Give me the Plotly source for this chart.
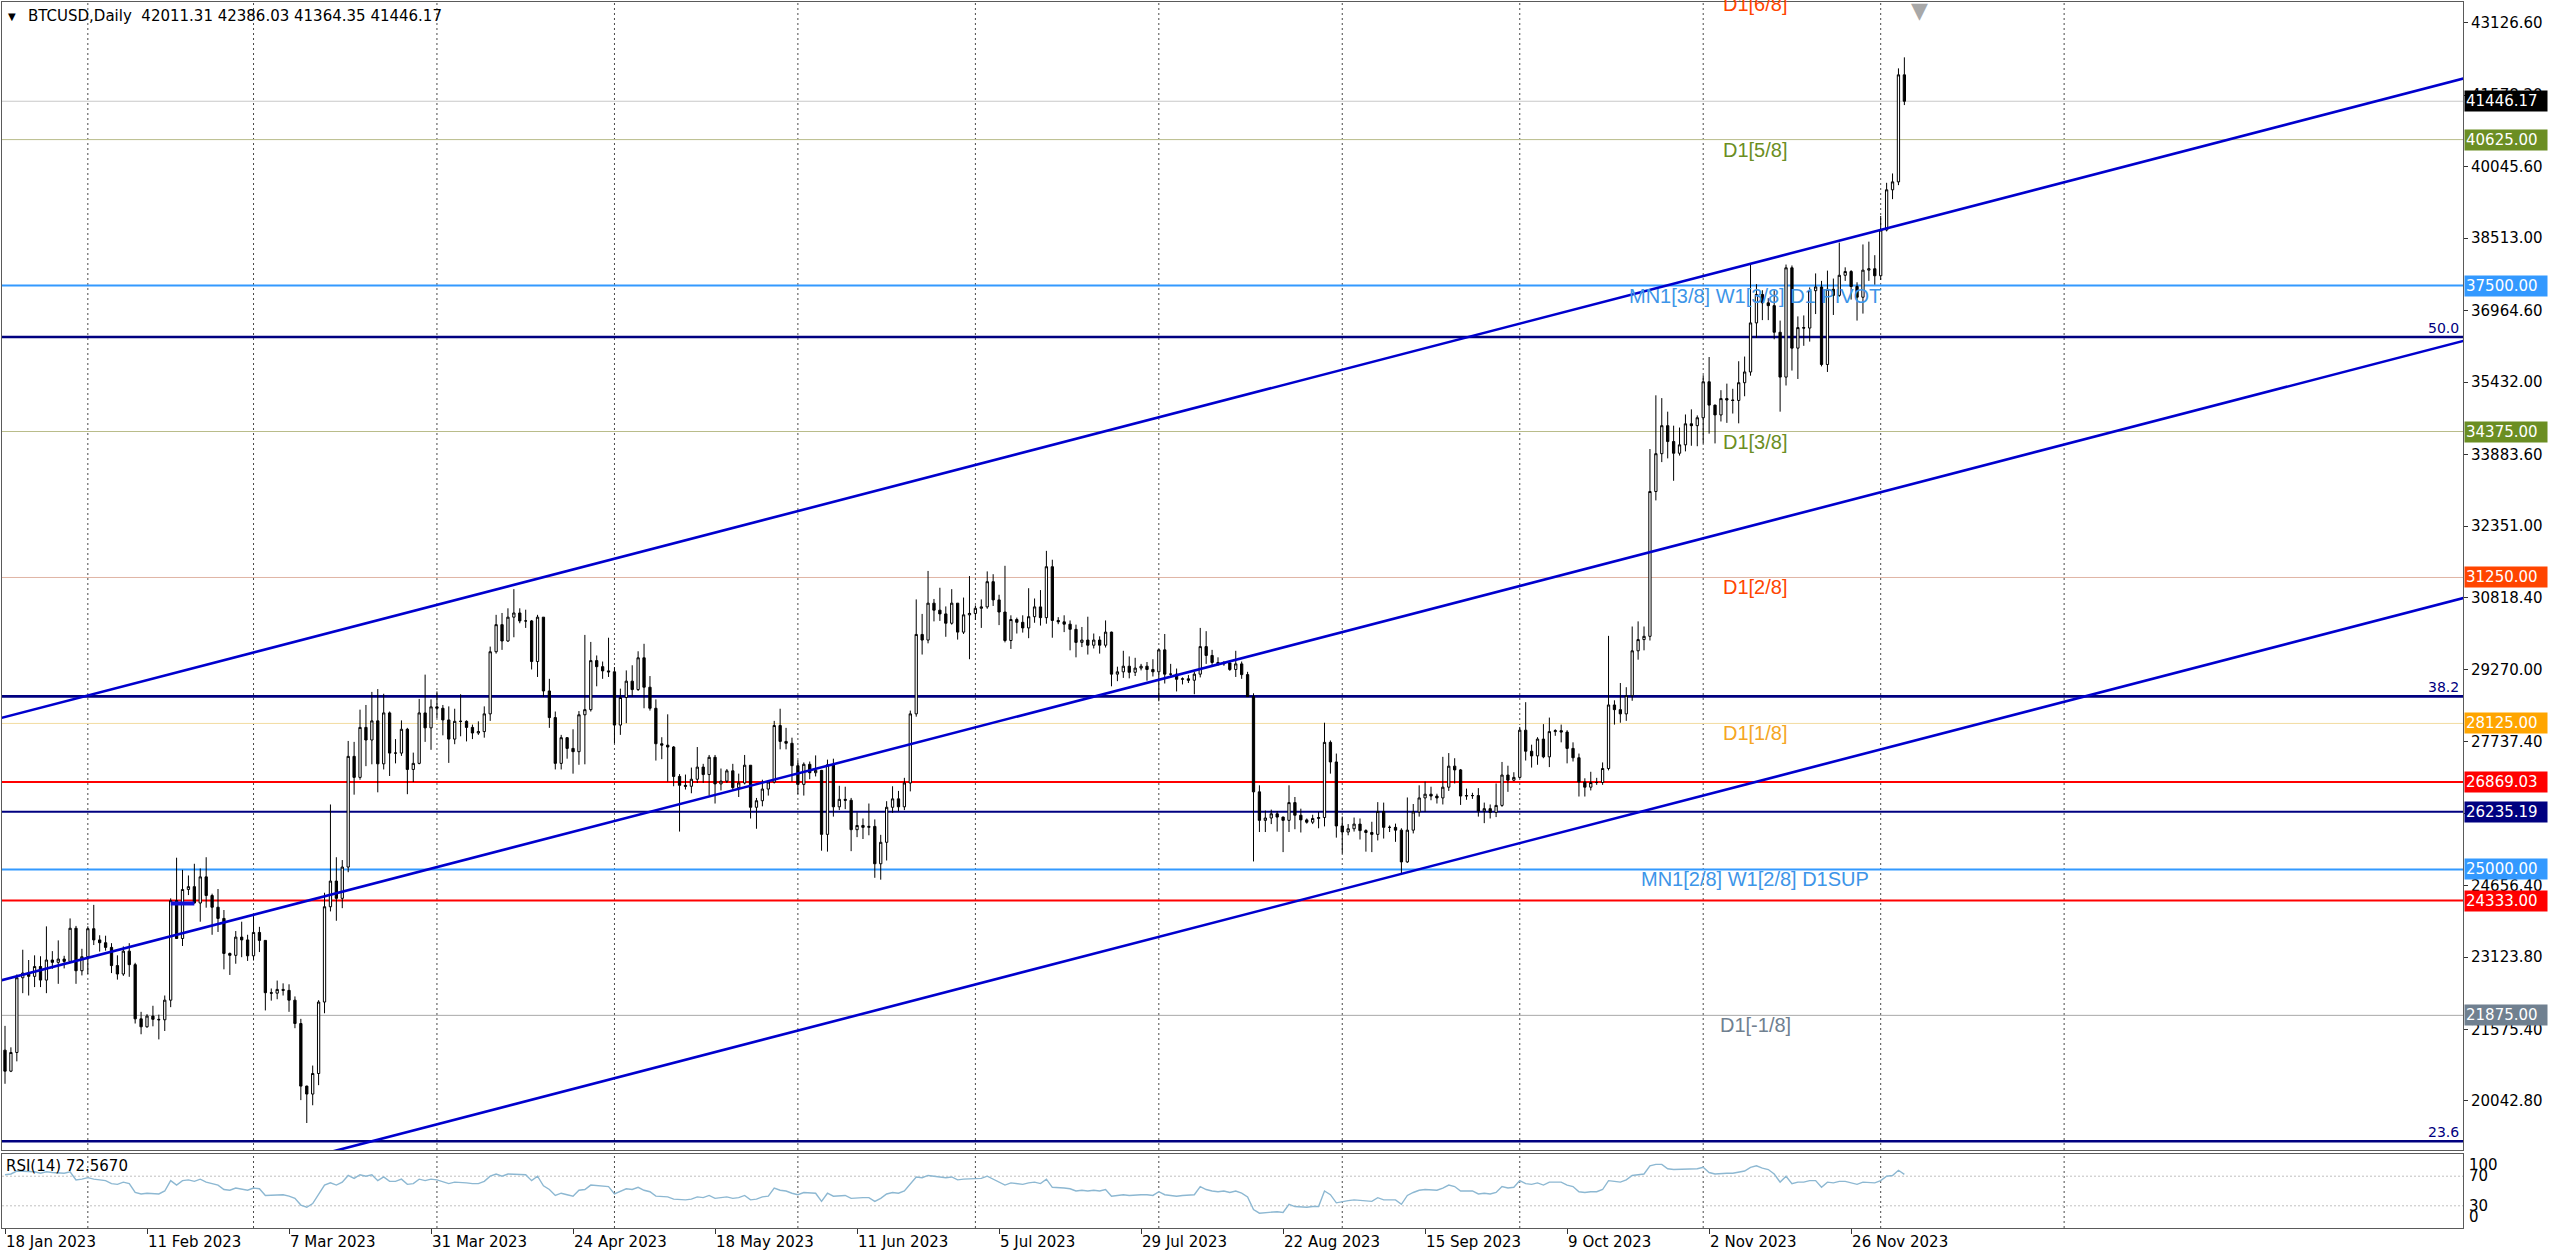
import pandas as pd
import plotly.graph_objects as go

# ---------------- data ----------------
dates = pd.date_range("2023-01-18", "2023-12-05", freq="D")

opens = [
    21130, 20680, 21080, 22680, 22780, 22710, 22920, 22630, 23060, 23010, 23080, 23030, 23740, 22830,
    23130, 23730, 23490, 23430, 23330, 22940, 22760, 23250, 22960, 21800, 21630, 21860, 21790, 21780, 22200, 24330, 23520, 24570, 24630, 24280, 24840, 24440, 24190, 23950, 23200, 23160, 23550, 23490,
    23150, 23650, 23480, 22360, 22350, 22430, 22410, 22200, 21700, 20360, 20190, 20630, 22160, 24200, 24750, 24380, 25050, 27420, 26970, 28040, 27770, 28180, 27260, 28350, 27490, 27490, 28000, 27140, 27270, 28350, 28030,
    28480, 28450, 28200, 27790, 28170, 28170, 28040, 27920, 27950, 28330, 29660, 30240, 29890, 30400, 30490, 30320, 30320, 29450, 30400, 28820, 28250, 27270, 27820, 27590, 27520, 28310, 28420, 29470, 29340, 29250,
    29230, 28090, 28680, 29030, 28850, 29530, 28900, 28450, 27690, 27660, 27620, 26990, 26800, 26780, 26930, 27190, 27030, 27400, 26830, 26890, 27110, 26750, 26850, 27230, 26330, 26470, 26720, 26870, 28080, 27740, 27700,
    27220, 26820, 27250, 27070, 27120, 25750, 27240, 26340, 26500, 26480, 25850, 25940, 25900, 25920, 25120, 25580, 26330, 26510, 26340, 26850, 28330, 30030, 29910, 30700, 30550, 30470, 30270, 30700, 30080, 30450,
    30480, 30590, 30620, 31160, 30770, 30510, 29900, 30350, 30290, 30170, 30410, 30620, 30390, 31480, 30330, 30300, 30250, 30140, 29860, 29910, 29800, 29910, 29800, 30080, 29180, 29230, 29350, 29220, 29310, 29350, 29280,
    29230, 29700, 29180, 29180, 29070, 29080, 29050, 29180, 29770, 29580, 29430, 29400, 29420, 29280, 29400, 29170, 28700, 26660, 26050, 26100, 26190, 26120, 26050, 26430, 26160, 26060, 26010, 26090, 26110, 27720, 27300,
    25930, 25800, 25870, 25970, 25830, 25790, 25750, 26240, 25900, 25900, 25840, 25160, 25840, 26230, 26530, 26610, 26570, 26530, 26760, 27210, 27130, 26570, 26580, 26580, 26250, 26300, 26220, 26370, 27020, 26910,
    26970, 27980, 27530, 27430, 27790, 27410, 27950, 27970, 27940, 27590, 27390, 26870, 26760, 26860, 26860, 27160, 28520, 28420, 28330, 28720, 29680, 29920, 29990, 33090, 33900, 34500, 34160, 33910, 34090, 34540, 34500,
    34670, 35440, 34940, 34730, 35080, 35050, 35040, 35420, 35650, 36700, 37310, 37130, 37070, 36500, 35540, 37880, 36160, 36600, 36590, 37390, 37470, 35810, 37420, 37290, 37720, 37800, 37480, 37250, 37830, 37860,
    37710, 38690, 39550, 39720, 42011.31,
]
highs = [
    21650, 21190, 22750, 23280, 23060, 23160, 23140, 23780, 23250, 23480, 23150, 23950, 23790, 23300,
    23780, 24240, 23590, 23580, 23420, 23160, 23350, 23420, 23000, 21950, 21900, 22080, 21890, 22300, 24380, 25250, 24990, 24870, 25120, 25020, 25260, 24480, 24580, 24130, 23220, 23680, 23880, 23600,
    24000, 23770, 23480, 22450, 22620, 22560, 22540, 22280, 21800, 20370, 20800, 22200, 24500, 26390, 25260, 25200, 27750, 27730, 28420, 28520, 28800, 28860, 28760, 28380, 27790, 28190, 28030, 27500, 28650, 29170, 28640,
    28810, 28520, 28490, 28440, 28750, 28190, 28100, 28170, 28490, 29770, 30450, 30490, 30590, 31000, 30590, 30560, 30340, 30450, 30400, 29080, 28380, 27880, 27830, 28000, 28390, 30020, 29870, 29580, 29450, 29960,
    29330, 28870, 29260, 29370, 29670, 29830, 29140, 28640, 27830, 28320, 27640, 27040, 27030, 27180, 27620, 27260, 27450, 27450, 27160, 27150, 27260, 27050, 27450, 27230, 26530, 26920, 26900, 28180, 28440, 28030, 27820,
    27340, 27290, 27310, 27440, 27130, 27350, 27370, 26790, 26770, 26530, 26220, 26090, 26410, 26070, 25740, 26460, 26780, 26680, 26960, 28400, 30780, 30470, 31390, 30790, 31030, 30630, 31000, 30700, 30820, 31280,
    30650, 30780, 31380, 31320, 30880, 31500, 30440, 30390, 30440, 31020, 30800, 30980, 31820, 31630, 30400, 30440, 30330, 30240, 30190, 30410, 30050, 29990, 30330, 30090, 29340, 29680, 29560, 29530, 29400, 29440, 29500,
    29720, 30040, 29400, 29300, 29110, 29160, 29230, 30170, 30100, 29700, 29540, 29460, 29450, 29680, 29450, 29230, 28770, 26800, 26260, 26280, 26250, 26130, 26800, 26550, 26300, 26090, 26170, 26230, 28140, 27760, 27480,
    26130, 25970, 26110, 26090, 25860, 26020, 26440, 26430, 25940, 25980, 25880, 26540, 26400, 26800, 26880, 26770, 26620, 27410, 27490, 27380, 27150, 26730, 26640, 26740, 26430, 26390, 26840, 27300, 27220, 27080,
    28050, 28580, 27670, 27830, 28110, 28250, 28000, 28100, 27980, 27720, 27480, 26950, 27090, 26960, 27290, 30000, 28620, 28990, 28900, 30200, 30310, 30200, 34000, 35150, 35090, 34800, 34500, 34460, 34740, 34850, 34720,
    35580, 35970, 34950, 35260, 35400, 35290, 35880, 35980, 37970, 37530, 37400, 37230, 37400, 36750, 37950, 37930, 36840, 36860, 37460, 37760, 37600, 37820, 37650, 38420, 37890, 37830, 37570, 38380, 38440, 38150,
    38990, 39700, 39900, 42150, 42386.03,
]
lows = [
    20410, 20660, 20890, 22350, 22300, 22480, 22480, 22350, 22870, 22550, 22880, 23000, 22550, 22730,
    22760, 23380, 23240, 23260, 22780, 22640, 22720, 22700, 21700, 21470, 21610, 21640, 21360, 21540, 22050, 23520, 23360, 24450, 24270, 23880, 24180, 23600, 23660, 22860, 22740, 22980, 23120, 23040,
    23050, 23230, 21980, 22190, 22220, 22300, 21950, 21600, 20060, 19570, 19950, 20380, 21920, 24100, 23900, 24170, 24940, 26600, 26920, 27210, 27250, 26650, 27140, 27000, 27270, 27430, 26610, 26870, 27250, 27730, 27560,
    28240, 27870, 27280, 27680, 27850, 27740, 27790, 27880, 27820, 28180, 29620, 29700, 29870, 29970, 30270, 30170, 29280, 29120, 28690, 28030, 27140, 27140, 27370, 27050, 27240, 27250, 28380, 28920, 29080, 29120,
    27700, 27880, 28130, 28700, 28820, 28450, 28400, 27330, 27360, 26880, 26780, 25810, 26710, 26630, 26850, 26850, 26580, 26410, 26690, 26850, 26690, 26550, 26820, 26090, 25870, 26350, 26580, 26840, 27570, 27570, 26880,
    26610, 26580, 26930, 26990, 25400, 25380, 26130, 26270, 26290, 25390, 25690, 25650, 25730, 24820, 24780, 25190, 26210, 26250, 26270, 26670, 28270, 29600, 29840, 30310, 30320, 29980, 30240, 29920, 30040, 29500,
    30340, 30170, 30580, 30640, 30230, 29860, 29720, 30050, 30070, 29950, 30280, 30220, 30260, 29960, 30250, 30080, 29690, 29540, 29760, 29600, 29730, 29620, 29750, 28920, 29030, 29100, 29090, 29140, 29260, 29040, 29130,
    28600, 28980, 29100, 28810, 28960, 28990, 28750, 29110, 29400, 29350, 29360, 29360, 29250, 29120, 29080, 28700, 25170, 25800, 25800, 25970, 25810, 25370, 25800, 25860, 25790, 25980, 25970, 25880, 25920, 27050, 25680,
    25340, 25730, 25810, 25640, 25380, 25370, 25620, 25660, 25800, 25590, 24910, 25140, 25770, 26130, 26230, 26480, 26410, 26390, 26680, 26840, 26380, 26490, 26510, 26130, 25990, 26090, 26120, 26340, 26660, 26890,
    26950, 27330, 27180, 27240, 27380, 27190, 27860, 27720, 27270, 27310, 26560, 26560, 26690, 26810, 26810, 27120, 28100, 28140, 28180, 28610, 29490, 29690, 29900, 32900, 33720, 33800, 33320, 33860, 33950, 34070, 34060,
    34120, 34330, 34120, 34590, 34560, 34760, 34550, 35130, 35570, 36380, 36760, 36760, 36350, 34800, 35360, 35680, 35500, 36210, 36300, 36890, 35770, 35650, 36870, 37260, 37600, 37200, 36750, 36900, 37600, 37520,
    37620, 38660, 39350, 39650, 41364.35,
]
closes = [
    20680, 21080, 22680, 22780, 22710, 22920, 22630, 23060, 23010, 23080, 23030, 23740, 22830, 23130,
    23730, 23490, 23430, 23330, 22940, 22760, 23250, 22960, 21800, 21630, 21860, 21790, 21780, 22200, 24330, 23520, 24570, 24630, 24280, 24840, 24440, 24190, 23950, 23200, 23160, 23550, 23490, 23150,
    23650, 23480, 22360, 22350, 22430, 22410, 22200, 21700, 20360, 20190, 20630, 22160, 24200, 24750, 24380, 25050, 27420, 26970, 28040, 27770, 28180, 27260, 28350, 27490, 27490, 28000, 27140, 27270, 28350, 28030, 28480,
    28450, 28200, 27790, 28170, 28170, 28040, 27920, 27950, 28330, 29660, 30240, 29890, 30400, 30490, 30320, 30320, 29450, 30400, 28820, 28250, 27270, 27820, 27590, 27520, 28310, 28420, 29470, 29340, 29250, 29230,
    28090, 28680, 29030, 28850, 29530, 28900, 28450, 27690, 27660, 27620, 26990, 26800, 26780, 26930, 27190, 27030, 27400, 26830, 26890, 27110, 26750, 26850, 27230, 26330, 26470, 26720, 26870, 28080, 27740, 27700, 27220,
    26820, 27250, 27070, 27120, 25750, 27240, 26340, 26500, 26480, 25850, 25940, 25900, 25920, 25120, 25580, 26330, 26510, 26340, 26850, 28330, 30030, 29910, 30700, 30550, 30470, 30270, 30700, 30080, 30450, 30480,
    30590, 30620, 31160, 30770, 30510, 29900, 30350, 30290, 30170, 30410, 30620, 30390, 31480, 30330, 30300, 30250, 30140, 29860, 29910, 29800, 29910, 29800, 30080, 29180, 29230, 29350, 29220, 29310, 29350, 29280, 29230,
    29700, 29180, 29180, 29070, 29080, 29050, 29180, 29770, 29580, 29430, 29400, 29420, 29280, 29400, 29170, 28700, 26660, 26050, 26100, 26190, 26120, 26050, 26430, 26160, 26060, 26010, 26090, 26110, 27720, 27300, 25930,
    25800, 25870, 25970, 25830, 25790, 25750, 26240, 25900, 25900, 25840, 25160, 25840, 26230, 26530, 26610, 26570, 26530, 26760, 27210, 27130, 26570, 26580, 26580, 26250, 26300, 26220, 26370, 27020, 26910, 26970,
    27980, 27530, 27430, 27790, 27410, 27950, 27970, 27940, 27590, 27390, 26870, 26760, 26860, 26860, 27160, 28520, 28420, 28330, 28720, 29680, 29920, 29990, 33090, 33900, 34500, 34160, 33910, 34090, 34540, 34500, 34670,
    35440, 34940, 34730, 35080, 35050, 35040, 35420, 35650, 36700, 37310, 37130, 37070, 36500, 35540, 37880, 36160, 36600, 36590, 37390, 37470, 35810, 37420, 37290, 37720, 37800, 37480, 37250, 37830, 37860, 37710,
    38690, 39550, 39720, 42011.31, 41446.17,
]
rsi = [
    72, 73, 77, 77, 76, 76, 74, 76, 75, 75, 74, 76, 65, 66,
    68, 66, 65, 64, 60, 59, 62, 60, 48, 46, 47, 47, 46, 50, 64, 58, 64, 65, 63, 66, 62, 60, 58, 52, 51, 54, 53, 51,
    54, 53, 44, 44, 45, 45, 43, 40, 31, 28, 33, 46, 58, 61, 58, 62, 71, 67, 72, 70, 72, 64, 69, 63, 63, 66, 59, 60, 66, 64, 66,
    65, 63, 60, 62, 62, 61, 60, 60, 63, 70, 73, 70, 73, 73, 72, 72, 64, 70, 57, 52, 44, 47, 45, 43, 51, 52, 58, 57, 56, 56,
    46, 50, 53, 52, 55, 51, 49, 43, 43, 42, 39, 38, 38, 39, 42, 41, 44, 40, 41, 42, 40, 41, 44, 38, 39, 42, 43, 54, 51, 50, 47,
    45, 48, 47, 47, 36, 47, 43, 44, 44, 40, 41, 41, 41, 36, 40, 46, 48, 47, 50, 60, 69, 68, 71, 70, 69, 68, 69, 65, 66, 66,
    67, 67, 70, 66, 63, 58, 61, 60, 59, 61, 62, 60, 66, 55, 55, 54, 53, 50, 51, 50, 51, 50, 52, 43, 44, 45, 44, 45, 45, 45, 44,
    49, 45, 44, 43, 44, 44, 45, 56, 52, 50, 49, 50, 48, 50, 47, 42, 25, 20, 21, 22, 22, 21, 32, 29, 28, 28, 29, 29, 50, 45, 34,
    36, 37, 38, 37, 37, 36, 41, 38, 38, 38, 32, 44, 48, 51, 52, 51, 51, 54, 58, 56, 50, 50, 50, 46, 47, 46, 48, 56, 54, 55,
    64, 60, 59, 61, 58, 62, 62, 62, 58, 56, 49, 48, 49, 49, 52, 64, 63, 62, 65, 71, 72, 73, 84, 86, 86, 80, 79, 79, 80, 79, 80,
    82, 75, 73, 74, 74, 74, 76, 77, 82, 84, 81, 79, 73, 62, 70, 60, 62, 62, 64, 64, 55, 62, 61, 63, 63, 61, 59, 62, 62, 61,
    64, 70, 71, 78, 72.567,
]

# trend channel (two anchor points per line)
channel_x = ["2023-01-17", "2024-03-10"]
channel_upper = [28230, 41982]
channel_middle = [22613, 36365]
channel_lower = [17107, 30859]

# Murrey math levels
murrey_levels = [43750, 40625, 37500, 34375, 31250, 28125, 25000, 21875]
murrey_labels = ["D1[6/8]", "D1[5/8]", "MN1[3/8] W1[3/8] D1 PIVOT", "D1[3/8]",
                 "D1[2/8]", "D1[1/8]", "MN1[2/8] W1[2/8] D1SUP", "D1[-1/8]"]
murrey_text_colors = ["#FF4500", "#6B8E23", "#3D95E8", "#6B8E23",
                      "#FF4500", "#F5A623", "#3D95E8", "#708090"]
murrey_line_colors = ["#E8A890", "#B9BC8A", "#3399FF", "#B9BC8A",
                      "#E0B4A4", "#F2DCA0", "#3399FF", "#A8A8A8"]
murrey_line_widths = [1, 1, 2, 1, 1, 1, 2, 1]

# Fibonacci levels
fib_levels = [36400, 28705, 19180]
fib_labels = ["50.0", "38.2", "23.6"]

# support / resistance lines
sr_levels = [26869.03, 26235.19, 24333.00]
sr_colors = ["#FF0000", "#000080", "#FF0000"]

current_price = 41446.17

# price tags on the axis
tag_values = [41446.17, 40625.00, 37500.00, 34375.00, 31250.00, 28125.00,
              26869.03, 26235.19, 25000.00, 24333.00, 21875.00]
tag_colors = ["#000000", "#6B8E23", "#3399FF", "#6B8E23", "#FF4500", "#FFA500",
              "#FF0000", "#000080", "#3399FF", "#FF0000", "#708090"]

price_ticks = [43126.6, 41578.2, 40045.6, 38513.0, 36964.6, 35432.0, 33883.6, 32351.0,
               30818.4, 29270.0, 27737.4, 26189.0, 24656.4, 23123.8, 21575.4, 20042.8]
date_ticks = ["2023-01-18", "2023-02-11", "2023-03-07", "2023-03-31", "2023-04-24",
              "2023-05-18", "2023-06-11", "2023-07-05", "2023-07-29", "2023-08-22",
              "2023-09-15", "2023-10-09", "2023-11-02", "2023-11-26"]
month_grid = ["2023-02-01", "2023-03-01", "2023-04-01", "2023-05-01", "2023-06-01",
              "2023-07-01", "2023-08-01", "2023-09-01", "2023-10-01", "2023-11-01",
              "2023-12-01", "2024-01-01"]
rsi_levels = [70, 30]
rsi_axis_labels = [100, 70, 30, 0]

small_seg_x = ["2023-02-15", "2023-02-19"]
small_seg_y = 24270

# ---------------- figure ----------------
FONT = "DejaVu Sans"
ARIAL = "Liberation Sans, Arial"
x_range = ["2023-01-17 11:50", "2024-03-08 09:50"]
y_range = [18992, 43571]
main_dom = [0.06362, 1.0]
rsi_dom = [0.0, 0.06036]

fig = go.Figure()

for yy in (channel_upper, channel_middle, channel_lower):
    fig.add_trace(go.Scatter(x=channel_x, y=yy, mode="lines",
                             line=dict(color="#0000CD", width=2.6),
                             xaxis="x", yaxis="y", hoverinfo="skip"))

fig.add_trace(go.Candlestick(
    x=dates, open=opens, high=highs, low=lows, close=closes,
    increasing=dict(line=dict(color="black", width=1), fillcolor="white"),
    decreasing=dict(line=dict(color="black", width=1), fillcolor="black"),
    xaxis="x", yaxis="y"))

fig.add_trace(go.Scatter(x=dates, y=rsi, mode="lines",
                         line=dict(color="#8DB8D2", width=1.4),
                         xaxis="x2", yaxis="y2", hoverinfo="skip"))

shapes = []
# vertical monthly grid in both panes
for d in month_grid:
    for yr in ("y domain", "y2 domain"):
        shapes.append(dict(type="line", xref="x", yref=yr, x0=d, x1=d, y0=0, y1=1,
                           line=dict(color="#4A4A4A", width=1, dash="2px,3px"), layer="below"))
# horizontal levels
def hline(y, color, width, dash="solid"):
    shapes.append(dict(type="line", xref="x domain", yref="y", x0=0, x1=1, y0=y, y1=y,
                       line=dict(color=color, width=width, dash=dash), layer="below"))

hline(current_price, "#C8C8C8", 1)
for lv, c, w in zip(murrey_levels, murrey_line_colors, murrey_line_widths):
    hline(lv, c, w)
for lv in fib_levels:
    hline(lv, "#000080", 2.6)
for lv, c in zip(sr_levels, sr_colors):
    hline(lv, c, 2)
# RSI levels
for lv in rsi_levels:
    shapes.append(dict(type="line", xref="x domain", yref="y2", x0=0, x1=1, y0=lv, y1=lv,
                       line=dict(color="#C0C0C0", width=1, dash="2px,2px"), layer="below"))
# small blue segment
shapes.append(dict(type="line", xref="x", yref="y", x0=small_seg_x[0], x1=small_seg_x[1],
                   y0=small_seg_y, y1=small_seg_y, line=dict(color="#1414D8", width=4)))

annotations = []
label_x = "2023-11-09 19:00"
for lv, txt, c in zip(murrey_levels, murrey_labels, murrey_text_colors):
    if y_range[0] <= lv <= y_range[1]:
        annotations.append(dict(x=label_x, y=lv, xref="x", yref="y", text=txt, showarrow=False,
                                xanchor="center", yanchor="top", yshift=3,
                                font=dict(family=ARIAL, size=20, color=c)))
    else:
        frac = (lv - y_range[0]) / (y_range[1] - y_range[0])
        py = main_dom[0] + (main_dom[1] - main_dom[0]) * frac
        annotations.append(dict(x=label_x, y=py, xref="x", yref="paper", text=txt, showarrow=False,
                                xanchor="center", yanchor="top", yshift=3,
                                font=dict(family=ARIAL, size=20, color=c)))
for lv, txt in zip(fib_levels, fib_labels):
    annotations.append(dict(x=1, y=lv, xref="paper", yref="y", text=txt, showarrow=False,
                            xanchor="right", yanchor="bottom", xshift=-2, yshift=-1,
                            font=dict(family=FONT, size=14, color="#000080")))
for v, c in zip(tag_values, tag_colors):
    annotations.append(dict(x=1, y=v, xref="paper", yref="y", text=f"{v:.2f}", showarrow=False,
                            xanchor="left", yanchor="middle", xshift=1, bgcolor=c,
                            width=80, height=18, align="left", borderpad=1,
                            font=dict(family=FONT, size=15, color="white")))
for v in rsi_axis_labels:
    ya = "top" if v == 100 else ("bottom" if v == 0 else "middle")
    annotations.append(dict(x=1, y=v, xref="paper", yref="y2", text=str(v), showarrow=False,
                            xanchor="left", yanchor=ya, xshift=4, yshift=0,
                            font=dict(family=FONT, size=15, color="black")))
annotations.append(dict(x=0, y=1, xref="paper", yref="paper",
                        text="BTCUSD,Daily\u00a0\u00a042011.31 42386.03 41364.35 41446.17",
                        showarrow=False, xanchor="left", yanchor="top", xshift=24, yshift=-3,
                        font=dict(family=FONT, size=15, color="black")))
annotations.append(dict(x=0, y=1, xref="paper", yref="paper", text="\u25BC", showarrow=False,
                        xanchor="left", yanchor="top", xshift=4, yshift=-7,
                        font=dict(family=FONT, size=10, color="black")))
annotations.append(dict(x=0, y=1, xref="paper", yref="y2 domain", text="RSI(14) 72.5670",
                        showarrow=False, xanchor="left", yanchor="top", xshift=2, yshift=-1,
                        font=dict(family=FONT, size=15, color="black")))
annotations.append(dict(x="2023-12-07 15:00", y=1, xref="x", yref="paper", text="\u25BC",
                        showarrow=False, xanchor="center", yanchor="top", yshift=6,
                        font=dict(family=FONT, size=22, color="#A8A8A8")))

fig.update_layout(
    width=2560, height=1257,
    margin=dict(l=2, r=97, t=2, b=29),
    paper_bgcolor="white", plot_bgcolor="white",
    showlegend=False, boxgap=0.45,
    font=dict(family=FONT, size=15, color="black"),
    shapes=shapes, annotations=annotations,
    xaxis=dict(domain=[0, 1], anchor="y", type="date", range=x_range,
               showticklabels=False, showgrid=False, ticks="",
               showline=True, mirror=True, linecolor="#5A5A5A", linewidth=1,
               rangeslider=dict(visible=False)),
    yaxis=dict(domain=main_dom, anchor="x", range=y_range, side="right",
               tickvals=price_ticks, ticktext=[f"{v:.2f}" for v in price_ticks],
               ticks="outside", ticklen=4, tickcolor="#333333",
               showgrid=False, zeroline=False,
               showline=True, mirror=True, linecolor="#5A5A5A", linewidth=1,
               tickfont=dict(family=FONT, size=15, color="black")),
    xaxis2=dict(domain=[0, 1], anchor="y2", type="date", matches="x",
                tickvals=date_ticks, tickformat="%-d %b %Y",
                ticks="outside", ticklen=5, tickcolor="#333333",
                ticklabelposition="outside right",
                showgrid=False, showline=True, mirror=True, linecolor="#5A5A5A", linewidth=1,
                tickfont=dict(family=FONT, size=15, color="black")),
    yaxis2=dict(domain=rsi_dom, anchor="x2", range=[0, 100], side="right",
                showticklabels=False, ticks="", showgrid=False, zeroline=False,
                showline=True, mirror=True, linecolor="#5A5A5A", linewidth=1),
)

fig.write_html("out.html", config={"displayModeBar": False},
               post_script="document.body.style.margin='0';document.body.style.overflow='hidden';")
